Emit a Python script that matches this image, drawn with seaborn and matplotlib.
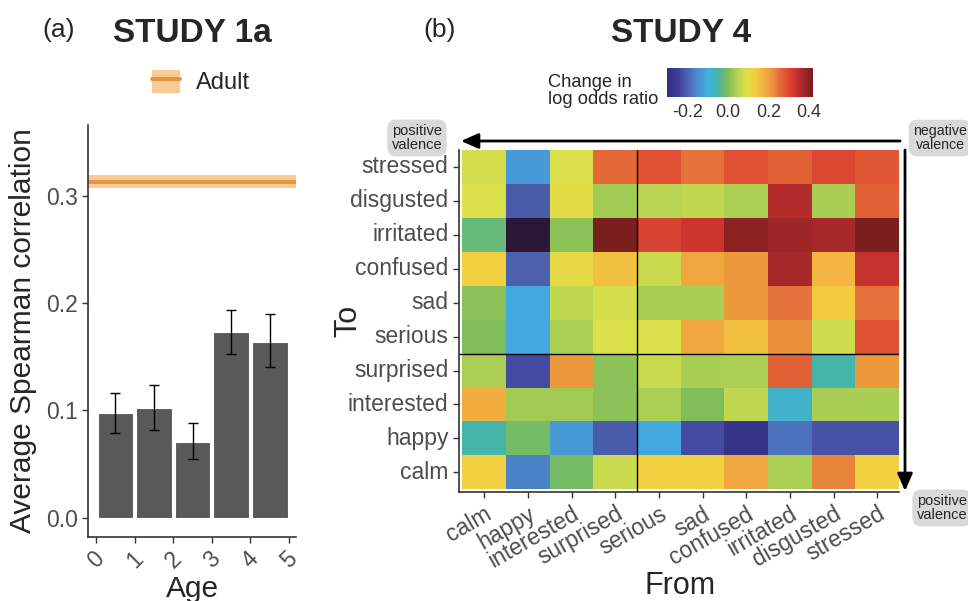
import numpy as np
import pandas as pd
import matplotlib
matplotlib.use("Agg")
import matplotlib.pyplot as plt
from matplotlib.colors import LinearSegmentedColormap
from matplotlib.patches import Patch, FancyArrowPatch
from matplotlib.lines import Line2D
import seaborn as sns

# panel (a): average Spearman correlation by age
age_groups = ["0-1", "1-2", "2-3", "3-4", "4-5"]
age_ticks = ["0", "1", "2", "3", "4", "5"]
spearman_mean = [0.098, 0.102, 0.071, 0.173, 0.164]
spearman_lo = [0.079, 0.082, 0.055, 0.153, 0.140]
spearman_hi = [0.116, 0.124, 0.088, 0.194, 0.190]
adult_mean = 0.313
adult_lo = 0.307
adult_hi = 0.319

# panel (b): change in log odds ratio, rows = To (top to bottom), cols = From
from_emotions = ["calm", "happy", "interested", "surprised", "serious",
                 "sad", "confused", "irritated", "disgusted", "stressed"]
to_emotions = from_emotions[::-1]
log_odds_change = [
    [0.08, -0.13, 0.09, 0.26, 0.29, 0.25, 0.29, 0.27, 0.30, 0.28],           # stressed
    [0.09, -0.21, 0.10, 0.03, 0.05, 0.06, 0.04, 0.36, 0.035, 0.27],          # disgusted
    [-0.02, -0.40, 0.01, 0.42, 0.31, 0.33, 0.40, 0.38, 0.37, 0.42],          # irritated
    [0.13, -0.20, 0.11, 0.15, 0.07, 0.19, 0.21, 0.37, 0.17, 0.34],           # confused
    [0.01, -0.11, 0.06, 0.08, 0.035, 0.035, 0.21, 0.25, 0.14, 0.25],         # sad
    [0.00, -0.11, 0.04, 0.09, 0.09, 0.19, 0.15, 0.22, 0.075, 0.29],          # serious
    [0.04, -0.23, 0.21, 0.01, 0.07, 0.035, 0.04, 0.27, -0.05, 0.21],         # surprised
    [0.18, 0.03, 0.03, 0.01, 0.04, 0.00, 0.06, -0.08, 0.035, 0.035],         # interested
    [-0.05, -0.01, -0.13, -0.21, -0.11, -0.23, -0.28, -0.18, -0.22, -0.22],  # happy
    [0.13, -0.16, -0.01, 0.07, 0.13, 0.13, 0.19, 0.04, 0.23, 0.13],          # calm
]
vmin, vmax = -0.3, 0.42
cbar_ticks = [-0.2, 0.0, 0.2, 0.4]

# colour scale (value, colour)
scale_nodes = [
    (-0.30, "#2e2e80"), (-0.25, "#3f3c96"), (-0.20, "#4c62ae"), (-0.15, "#4c8cd0"),
    (-0.10, "#3fb0e0"), (-0.05, "#45b5a8"), (0.00, "#80bd58"), (0.05, "#b8d452"),
    (0.09, "#dce04a"), (0.13, "#f2d040"), (0.17, "#f3b540"), (0.21, "#ec9a3c"),
    (0.25, "#e4723a"), (0.29, "#e05032"), (0.33, "#d03530"), (0.37, "#a82828"),
    (0.42, "#7a1e1e"),
]
cmap = LinearSegmentedColormap.from_list(
    "valence", [((v - vmin) / (vmax - vmin), c) for v, c in scale_nodes])
cmap.set_under("#2d1738")

sns.set_style("white")
plt.rcParams["font.family"] = ["Liberation Sans", "DejaVu Sans"]
plt.rcParams["axes.unicode_minus"] = False

W, H = 968, 601
fig = plt.figure(figsize=(W / 100, H / 100), dpi=100)


def box(x0, y0, x1, y1):
    # pixel box (top-left origin) -> figure fraction rect
    return [x0 / W, 1 - y1 / H, (x1 - x0) / W, (y1 - y0) / H]


def fpos(x, y):
    return (x / W, 1 - y / H)


tick_grey = "#4d4d4d"
band_color = "#f6cb94"
line_color = "#e9923a"

# ---- (a) bar chart
ax_a = fig.add_axes(box(88, 125, 296, 537))
bar_df = pd.DataFrame({"group": age_groups, "mean": spearman_mean,
                       "lo": spearman_lo, "hi": spearman_hi})
ax_a.axhspan(adult_lo, adult_hi, color=band_color, lw=0, zorder=1)
ax_a.axhline(adult_mean, color=line_color, lw=2.8, zorder=2)
sns.barplot(data=bar_df, x="group", y="mean", color="#595959", saturation=1,
            width=0.92, edgecolor="white", linewidth=0.8, errorbar=None, ax=ax_a)
xpos = np.arange(len(age_groups))
ax_a.errorbar(xpos, bar_df["mean"],
              yerr=[bar_df["mean"] - bar_df["lo"], bar_df["hi"] - bar_df["mean"]],
              fmt="none", ecolor="black", elinewidth=1, capsize=3.5, capthick=1)
ax_a.set_xlim(-0.71, 4.68)
ax_a.set_ylim(-0.018, 0.366)
ax_a.set_xticks(np.arange(len(age_ticks)) - 0.5)
ax_a.set_xticklabels(age_ticks, rotation=45, ha="center")
ax_a.set_yticks([0.0, 0.1, 0.2, 0.3])
ax_a.set_yticklabels(["0.0", "0.1", "0.2", "0.3"])
ax_a.tick_params(bottom=True, left=True, length=4, width=1, color="#333333",
                 labelsize=16.5, labelcolor=tick_grey)
sns.despine(ax=ax_a)
for s in ["left", "bottom"]:
    ax_a.spines[s].set_color("#333333")
    ax_a.spines[s].set_linewidth(1.2)
ax_a.set_xlabel("Age", fontsize=21.5)
ax_a.xaxis.set_label_coords(0.5, -0.092)
ax_a.set_ylabel("Average Spearman correlation", fontsize=21.5, labelpad=6)

adult_handle = (Patch(facecolor=band_color, edgecolor="none"),
                Line2D([], [], color=line_color, lw=2.8))
ax_a.legend([adult_handle], ["Adult"], loc="center", bbox_to_anchor=fpos(201, 82),
            bbox_transform=fig.transFigure, frameon=False, fontsize=17,
            handlelength=1.2, handleheight=1.15, handletextpad=0.7)

# ---- (b) heatmap
ax_b = fig.add_axes(box(459, 150, 899, 492))
cax = fig.add_axes(box(667, 68, 813, 97))
hm_df = pd.DataFrame(log_odds_change, index=to_emotions, columns=from_emotions)
sns.heatmap(hm_df, cmap=cmap, vmin=vmin, vmax=vmax, ax=ax_b, cbar_ax=cax,
            cbar_kws={"orientation": "horizontal", "ticks": cbar_ticks})
ax_b.set_xlim(-0.08, 10)
ax_b.set_ylim(10.08, 0)
for s in ["left", "bottom"]:
    ax_b.spines[s].set_visible(True)
    ax_b.spines[s].set_color("#333333")
    ax_b.spines[s].set_linewidth(1.2)
ax_b.axvline(4, color="black", lw=1)
ax_b.axhline(6, color="black", lw=1)
ax_b.set_xticklabels(from_emotions, rotation=30, ha="right", rotation_mode="anchor")
ax_b.set_yticklabels(to_emotions, rotation=0)
ax_b.tick_params(bottom=True, left=True, length=4, width=1, color="#333333",
                 labelsize=16.5, labelcolor=tick_grey)
ax_b.set_xlabel("From", fontsize=22)
ax_b.xaxis.set_label_coords(0.502, -0.232)
ax_b.set_ylabel("To", fontsize=22)
ax_b.yaxis.set_label_coords(-0.218, 0.5)

cbar = ax_b.collections[0].colorbar
cbar.outline.set_visible(False)
cax.set_xticklabels(["-0.2", "0.0", "0.2", "0.4"])
cax.tick_params(axis="x", bottom=True, top=True, direction="in", length=5, width=1,
                color="white", labelsize=13, labelcolor="#333333", pad=5)
fig.text(*fpos(548, 91), "Change in\nlog odds ratio", fontsize=13.2, ha="left",
         va="center", linespacing=1.05)

# valence arrows and labels
arrow_kw = dict(arrowstyle="-|>,head_length=0.95,head_width=0.42", color="black",
                lw=2, mutation_scale=11, shrinkA=0, shrinkB=0)
fig.patches.append(FancyArrowPatch(fpos(900, 141), fpos(461, 141),
                                   transform=fig.transFigure, **arrow_kw))
fig.patches.append(FancyArrowPatch(fpos(905, 150), fpos(905, 491),
                                   transform=fig.transFigure, **arrow_kw))
valence_box = dict(boxstyle="round,pad=0.3,rounding_size=0.6", fc="#d9d9d9", ec="none")
fig.text(*fpos(417, 138), "positive\nvalence", fontsize=10.5, ha="center", va="center",
         linespacing=1.0, bbox=valence_box)
fig.text(*fpos(940, 138), "negative\nvalence", fontsize=10.2, ha="center", va="center",
         linespacing=1.0, bbox=valence_box)
fig.text(*fpos(942, 508), "positive\nvalence", fontsize=10.5, ha="center", va="center",
         linespacing=1.0, bbox=valence_box)

# titles
fig.text(*fpos(59, 30), "(a)", fontsize=19, ha="center", va="center")
fig.text(*fpos(192, 33), "STUDY 1a", fontsize=24, fontweight="bold", ha="center", va="center")
fig.text(*fpos(440, 30), "(b)", fontsize=19, ha="center", va="center")
fig.text(*fpos(681, 33), "STUDY 4", fontsize=24, fontweight="bold", ha="center", va="center")

fig.savefig("out.png", dpi=100)
